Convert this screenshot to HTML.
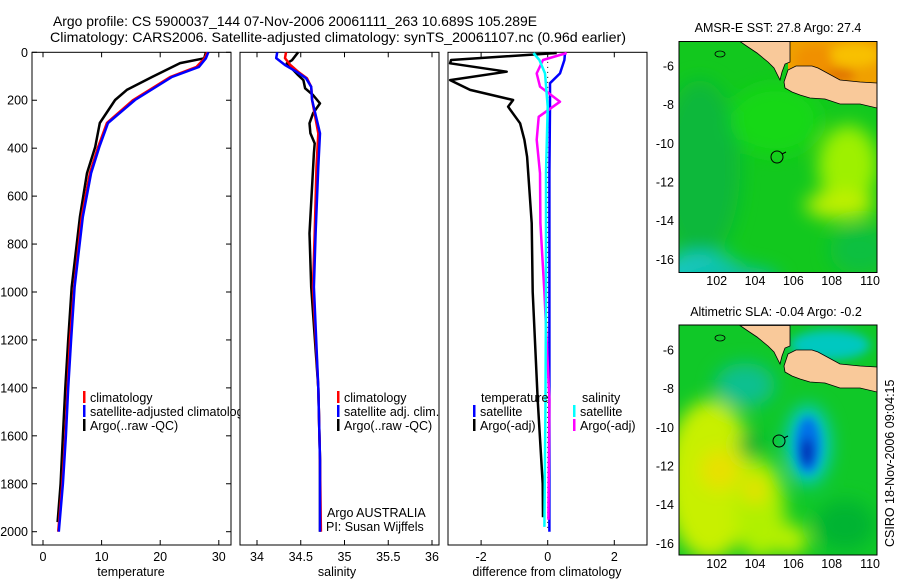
<!DOCTYPE html>
<html><head><meta charset="utf-8"><style>
html,body{margin:0;padding:0;background:#fff;}
svg{display:block;font-family:"Liberation Sans",sans-serif;}
</style></head><body>
<svg id="c" width="900" height="580" viewBox="0 0 900 580">
<defs>
<clipPath id="cm1"><rect x="679" y="41.5" width="198" height="231"/></clipPath>
<clipPath id="cm2"><rect x="679" y="325" width="198" height="230"/></clipPath>
<clipPath id="cp1"><rect x="32" y="52" width="208" height="500"/></clipPath>
<filter id="bl" x="-50%" y="-50%" width="200%" height="200%"><feGaussianBlur stdDeviation="9"/></filter>
<filter id="bl2" x="-50%" y="-50%" width="200%" height="200%"><feGaussianBlur stdDeviation="5"/></filter>
</defs>
<text x="53" y="26" font-size="13.8" textLength="484" lengthAdjust="spacingAndGlyphs">Argo profile: CS 5900037_144 07-Nov-2006 20061111_263 10.689S 105.289E</text>
<text x="50" y="42" font-size="14" textLength="576" lengthAdjust="spacingAndGlyphs">Climatology: CARS2006. Satellite-adjusted climatology: synTS_20061107.nc (0.96d earlier)</text>
<g id="plots"></g>

<!-- map 1 -->
<g>
<text x="778" y="32" font-size="12.5" text-anchor="middle">AMSR-E SST: 27.8 Argo: 27.4</text>
<g clip-path="url(#cm1)">
<rect x="679" y="41.5" width="198" height="231" fill="#12c81e"/>
<g filter="url(#bl)">
<ellipse cx="700" cy="170" rx="40" ry="90" fill="#0cb83a"/>
<ellipse cx="700" cy="275" rx="45" ry="22" fill="#14c8c8"/>
<ellipse cx="730" cy="280" rx="50" ry="14" fill="#10c0a0"/>
<ellipse cx="775" cy="120" rx="45" ry="35" fill="#18d818"/>
<ellipse cx="848" cy="165" rx="30" ry="40" fill="#9ef000"/>
<ellipse cx="840" cy="205" rx="35" ry="14" fill="#c0f000"/>
<ellipse cx="860" cy="250" rx="30" ry="25" fill="#0cc040"/>
</g>
<rect x="788" y="41.5" width="89" height="42" fill="#f0a000"/>
<g filter="url(#bl2)"><ellipse cx="815" cy="60" rx="20" ry="15" fill="#f09000"/><ellipse cx="855" cy="55" rx="25" ry="12" fill="#f8c000"/><ellipse cx="840" cy="75" rx="15" ry="6" fill="#e07000"/></g>
<g id="land1">
<polygon points="740,41.5 790,41.5 790,62 785,64 782,72 780,80 774,68 768,62 757,53 748,47" fill="#f9c99a" stroke="#000" stroke-width="0.8"/>
<polygon points="784,82 788,70 796,66 812,66 818,68 840,80 860,82 877,83 877,108 860,104 840,104 825,99 810,98 800,95 792,92 785,88" fill="#f9c99a" stroke="#000" stroke-width="0.8"/>
<ellipse cx="720" cy="54" rx="5" ry="3" fill="none" stroke="#000" stroke-width="0.8"/>
</g>
</g>
<rect x="679" y="41.5" width="198" height="231" fill="none" stroke="#000" stroke-width="1"/>
<circle cx="777" cy="157" r="6" fill="none" stroke="#000" stroke-width="1"/>
<line x1="782" y1="154" x2="786" y2="152" stroke="#000"/>
</g>

<!-- map 2 -->
<g>
<text x="776" y="316" font-size="12.5" text-anchor="middle">Altimetric SLA: -0.04 Argo: -0.2</text>
<g clip-path="url(#cm2)">
<rect x="679" y="325" width="198" height="230" fill="#10c828"/>
<g filter="url(#bl)">
<ellipse cx="710" cy="480" rx="45" ry="80" fill="#c8f000"/>
<ellipse cx="760" cy="510" rx="25" ry="50" fill="#b0f000"/>
<ellipse cx="720" cy="470" rx="20" ry="20" fill="#e8e000"/>
<ellipse cx="755" cy="490" rx="12" ry="14" fill="#e8e000"/>
<ellipse cx="745" cy="385" rx="30" ry="22" fill="#10c090"/>
<ellipse cx="750" cy="445" rx="12" ry="14" fill="#08b030"/>
<ellipse cx="845" cy="525" rx="30" ry="25" fill="#06b430"/>
<ellipse cx="790" cy="540" rx="18" ry="16" fill="#b8f000"/>
<ellipse cx="808" cy="445" rx="22" ry="40" fill="#00c8d8"/>
</g>
<g filter="url(#bl2)">
<ellipse cx="808" cy="445" rx="12" ry="28" fill="#0070e8"/>
<ellipse cx="807" cy="452" rx="6" ry="14" fill="#0028b0"/>
<ellipse cx="830" cy="345" rx="40" ry="15" fill="#00c8c0"/>
</g>
<g transform="translate(0,284)">
<polygon points="740,41.5 790,41.5 790,62 785,64 782,72 780,80 774,68 768,62 757,53 748,47" fill="#f9c99a" stroke="#000" stroke-width="0.8"/>
<polygon points="784,82 788,70 796,66 812,66 818,68 840,80 860,82 877,83 877,108 860,104 840,104 825,99 810,98 800,95 792,92 785,88" fill="#f9c99a" stroke="#000" stroke-width="0.8"/>
<ellipse cx="720" cy="54" rx="5" ry="3" fill="none" stroke="#000" stroke-width="0.8"/>
</g>
</g>
<rect x="679" y="325" width="198" height="230" fill="none" stroke="#000" stroke-width="1"/>
<circle cx="779" cy="441" r="6" fill="none" stroke="#000" stroke-width="1"/>
<line x1="784" y1="438" x2="788" y2="436" stroke="#000"/>
</g>
<text transform="translate(894,547) rotate(-90)" font-size="12.5">CSIRO 18-Nov-2006 09:04:15</text>
</svg>
<script>
var NS="http://www.w3.org/2000/svg";
// ---------- data ----------
var depthTicks=[0,200,400,600,800,1000,1200,1400,1600,1800,2000];
var tempTicks=[0,10,20,30];
var salTicks=[34,34.5,35,35.5,36];
var diffTicks=[-2,0,2];
var mapLatTicks=[-6,-8,-10,-12,-14,-16];
var mapLonTicks=[102,104,106,108,110];
var climDepth=[0,25,61,103,199,295,395,504,687,979,1200,1400,1600,1800,2000];
var climTemp=[28.0,27.6,26.2,21.7,15.4,10.9,9.4,8.0,6.6,5.3,4.6,4.2,3.8,3.3,2.6];
var satTemp=[28.2,27.8,26.6,22.0,15.7,11.1,9.6,8.2,6.8,5.4,4.8,4.3,3.9,3.4,2.7];
var argoDepth=[0,25,45,103,157,199,295,395,504,687,979,1200,1400,1600,1800,1960];
var argoTemp=[27.8,27.5,23.4,18.6,14.3,12.3,9.7,8.9,7.5,6.3,4.9,4.3,3.8,3.4,3.0,2.5];
var salDepth=[0,3,24,53,81,108,144,199,338,477,756,979,1400,1700,2000];
var climSal=[34.33,34.33,34.32,34.38,34.47,34.57,34.62,34.63,34.70,34.68,34.66,34.64,34.70,34.72,34.73];
var satSal=[34.23,34.23,34.22,34.32,34.45,34.56,34.62,34.63,34.72,34.70,34.67,34.65,34.70,34.72,34.72];
var argoSalDepth=[0,33,46,61,95,116,150,178,213,255,296,338,380,421,756,979,1400,1700,2000];
var argoSal=[34.47,34.40,34.34,34.38,34.47,34.53,34.55,34.64,34.72,34.64,34.60,34.61,34.66,34.65,34.60,34.62,34.70,34.72,34.72];
var tDiffDepth=[3,32,46,81,116,157,199,227,296,365,436,574,713,1000,1450,1800,1940];
var tDiffArgo=[0.27,-2.9,-2.93,-1.23,-2.93,-2.33,-1.04,-1.19,-0.83,-0.70,-0.62,-0.55,-0.48,-0.45,-0.30,-0.15,-0.14];
var tDiffDepthS=[3,32,88,129,227,500,1000,1500,2000];
var tDiffSat=[0.52,0.50,0.37,0.07,0.07,0.05,0.05,0.05,0.05];
var sDiffDepth=[3,32,88,143,206,269,365,504,713,1000,1450,1950];
var sDiffArgo=[0.57,-0.14,-0.33,-0.23,0.37,-0.27,-0.33,-0.23,-0.22,-0.10,0.05,0.02];
var sDiffDepthS=[3,32,88,227,500,1000,1500,1980];
var sDiffSat=[-0.43,-0.25,-0.08,0.0,-0.05,-0.05,-0.07,-0.1];
// ---------- axes ----------
var top0=52.3,bot=545;
function yD(d){return top0+d*0.2397;}
function xT(v){return 43+v*5.86;}
function xS(v){return 257+(v-34)*87.5;}
function xDf(v){return 547.7+v*33.3;}
function lonX(l){return 716.7+(l-102)*19.17;}
function latY1(l){return 66+(-6-l)*19.33;}
function latY2(l){return 350+(-6-l)*19.33;}
var g=document.getElementById('plots');
function mk(tag,attrs,parent,text){var e=document.createElementNS(NS,tag);for(var k in attrs)e.setAttribute(k,attrs[k]);if(text!==undefined)e.textContent=text;(parent||g).appendChild(e);return e;}
function line(xs,ds,xf,col,w,name){
  var pts=xs.map(function(v,i){return xf(v).toFixed(1)+','+yD(ds[i]).toFixed(1);}).join(' ');
  var p=mk('polyline',{points:pts,fill:'none',stroke:col,'stroke-width':w,'stroke-linejoin':'round'});
  
  
  return p;
}
var panels=[[32,231],[240,439],[448,647]];
panels.forEach(function(p,i){
  var r=mk('rect',{x:p[0],y:top0,width:p[1]-p[0],height:bot-top0,fill:'none',stroke:'#000','stroke-width':1});
  
  
});
depthTicks.forEach(function(d){
  var y=yD(d);
  mk('line',{x1:32,y1:y,x2:37,y2:y,stroke:'#000'});
  mk('line',{x1:226,y1:y,x2:231,y2:y,stroke:'#000'});
  var t=mk('text',{x:28,y:y+4.5,'font-size':12.5,'text-anchor':'end'},g,String(d));
  
  
});
function xticks(ticks,xf,name){
  ticks.forEach(function(v){
    var x=xf(v);
    mk('line',{x1:x,y1:top0,x2:x,y2:top0+5,stroke:'#000'});
    mk('line',{x1:x,y1:bot,x2:x,y2:bot-5,stroke:'#000'});
    var t=mk('text',{x:x,y:561,'font-size':12.5,'text-anchor':'middle'},g,String(v));
    
    
  });
}
xticks(tempTicks,xT,'temperature-tick-label');
xticks(salTicks,xS,'salinity-tick-label');
xticks(diffTicks,xDf,'difference-tick-label');
[['temperature',131,'x-axis-title-temperature'],['salinity',337,'x-axis-title-salinity'],['difference from climatology',547,'x-axis-title-difference']].forEach(function(a){
  var t=mk('text',{x:a[1],y:576,'font-size':12.5,'text-anchor':'middle'},g,a[0]);
  
  
});
line(argoTemp,argoDepth,xT,'#000',2.5,'argo-temperature-line');
line(climTemp,climDepth,xT,'#f00',2.5,'climatology-temperature-line');
line(satTemp,climDepth,xT,'#00f',2.5,'satellite-temperature-line');
line(argoSal,argoSalDepth,xS,'#000',2.5,'argo-salinity-line');
line(climSal,salDepth,xS,'#f00',2.5,'climatology-salinity-line');
line(satSal,salDepth,xS,'#00f',2.5,'satellite-salinity-line');
var z=mk('line',{x1:xDf(0),y1:yD(40),x2:xDf(0),y2:yD(2000),stroke:'#000','stroke-width':1,'stroke-dasharray':'1,4'});


line(tDiffArgo,tDiffDepth,xDf,'#000',2.5,'argo-temperature-diff-line');
line(tDiffSat,tDiffDepthS,xDf,'#00f',2.5,'satellite-temperature-diff-line');
line(sDiffArgo,sDiffDepth,xDf,'#f0f',2.5,'argo-salinity-diff-line');
line(sDiffSat,sDiffDepthS,xDf,'#0ff',2.5,'satellite-salinity-diff-line');
function leg(x,y,col,label,name,clip){
  if(col){mk('rect',{x:x,y:y-11,width:2.5,height:12,fill:col});}
  var t=mk('text',{x:x+7,y:y,'font-size':12.5},g,label);
  if(clip) t.setAttribute('clip-path','url(#cp1)');
  
  
}
leg(83,402,'#f00','climatology','legend-climatology');
leg(83,416,'#00f','satellite-adjusted climatology','legend-satellite-adjusted',true);
leg(83,430,'#000','Argo(..raw -QC)','legend-argo');
leg(337,402,'#f00','climatology','legend-sal-climatology');
leg(337,416,'#00f','satellite adj. clim.','legend-sal-satellite');
leg(337,430,'#000','Argo(..raw -QC)','legend-sal-argo');
leg(474,402,null,'temperature','legend-diff-temperature-header');
leg(473,416,'#00f','satellite','legend-diff-temp-satellite');
leg(473,430,'#000','Argo(-adj)','legend-diff-temp-argo');
leg(575,402,null,'salinity','legend-diff-salinity-header');
leg(573,416,'#0ff','satellite','legend-diff-sal-satellite');
leg(573,430,'#f0f','Argo(-adj)','legend-diff-sal-argo');
var a1=mk('text',{x:327,y:517,'font-size':12.5},g,'Argo AUSTRALIA');


var a2=mk('text',{x:326,y:531,'font-size':12.5},g,'PI: Susan Wijffels');


[[latY1,272.5,41.5,285],[latY2,555,325,568]].forEach(function(m){
  mapLatTicks.forEach(function(l){
    var y=m[0](l);
    mk('line',{x1:679,y1:y,x2:683,y2:y,stroke:'#000'});
    mk('line',{x1:873,y1:y,x2:877,y2:y,stroke:'#000'});
    var t=mk('text',{x:674,y:y+4.5,'font-size':12.5,'text-anchor':'end'},g,String(l));
    
    
  });
  mapLonTicks.forEach(function(l){
    var x=lonX(l);
    mk('line',{x1:x,y1:m[1],x2:x,y2:m[1]-4,stroke:'#000'});
    mk('line',{x1:x,y1:m[2],x2:x,y2:m[2]+4,stroke:'#000'});
    var t=mk('text',{x:x,y:m[3],'font-size':12.5,'text-anchor':'middle'},g,String(l));
    
    
  });
});
</script>
</body></html>
